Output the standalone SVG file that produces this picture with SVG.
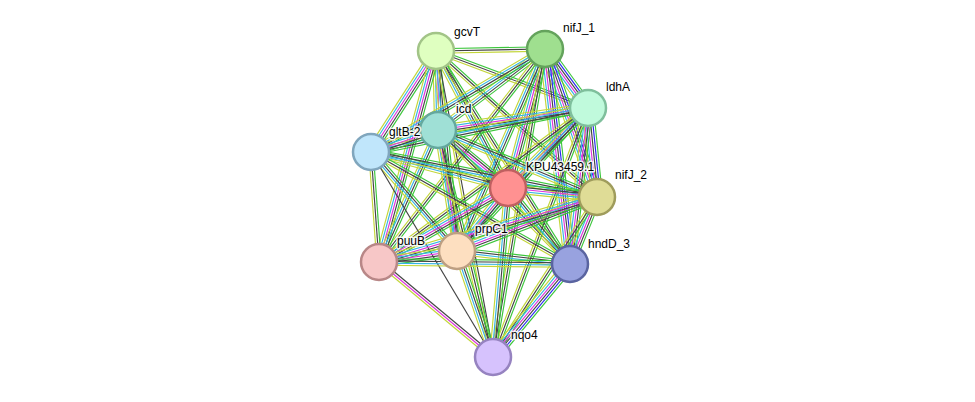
<svg xmlns="http://www.w3.org/2000/svg" xmlns:xlink="http://www.w3.org/1999/xlink" width="975" height="402" viewBox="0 0 975 402">
<style>
.e line{stroke-width:1.15;fill:none}
.g{stroke:#3cc63c}.b{stroke:#2a2af0}.k{stroke:#444}.m{stroke:#dc35dc}.c{stroke:#35b4e2}.y{stroke:#c3d63a}
.node circle{stroke-width:2.5}
.lbl{font-family:"Liberation Sans",Arial,sans-serif;font-size:12px;fill:#000;stroke:#fff;stroke-width:3;stroke-opacity:0.85;paint-order:stroke;stroke-linejoin:round}
</style>
<defs>
<g id="s6" class="e">
<line class="g" x1="0" y1="-5.5" x2="1" y2="-5.5" vector-effect="non-scaling-stroke"/>
<line class="b" x1="0" y1="-3.3" x2="1" y2="-3.3" vector-effect="non-scaling-stroke"/>
<line class="k" x1="0" y1="-1.1" x2="1" y2="-1.1" vector-effect="non-scaling-stroke"/>
<line class="m" x1="0" y1="1.1" x2="1" y2="1.1" vector-effect="non-scaling-stroke"/>
<line class="c" x1="0" y1="3.3" x2="1" y2="3.3" vector-effect="non-scaling-stroke"/>
<line class="y" x1="0" y1="5.5" x2="1" y2="5.5" vector-effect="non-scaling-stroke"/>
</g>
<g id="s5" class="e">
<line class="g" x1="0" y1="-4.4" x2="1" y2="-4.4" vector-effect="non-scaling-stroke"/>
<line class="k" x1="0" y1="-2.2" x2="1" y2="-2.2" vector-effect="non-scaling-stroke"/>
<line class="m" x1="0" y1="0" x2="1" y2="0" vector-effect="non-scaling-stroke"/>
<line class="c" x1="0" y1="2.2" x2="1" y2="2.2" vector-effect="non-scaling-stroke"/>
<line class="y" x1="0" y1="4.4" x2="1" y2="4.4" vector-effect="non-scaling-stroke"/>
</g>
<g id="s4" class="e">
<line class="g" x1="0" y1="-3.3" x2="1" y2="-3.3" vector-effect="non-scaling-stroke"/>
<line class="k" x1="0" y1="-1.1" x2="1" y2="-1.1" vector-effect="non-scaling-stroke"/>
<line class="c" x1="0" y1="1.1" x2="1" y2="1.1" vector-effect="non-scaling-stroke"/>
<line class="y" x1="0" y1="3.3" x2="1" y2="3.3" vector-effect="non-scaling-stroke"/>
</g>
<g id="s4m" class="e">
<line class="k" x1="0" y1="-3.3" x2="1" y2="-3.3" vector-effect="non-scaling-stroke"/>
<line class="m" x1="0" y1="-1.1" x2="1" y2="-1.1" vector-effect="non-scaling-stroke"/>
<line class="c" x1="0" y1="1.1" x2="1" y2="1.1" vector-effect="non-scaling-stroke"/>
<line class="y" x1="0" y1="3.3" x2="1" y2="3.3" vector-effect="non-scaling-stroke"/>
</g>
<g id="s3" class="e">
<line class="g" x1="0" y1="-2.2" x2="1" y2="-2.2" vector-effect="non-scaling-stroke"/>
<line class="k" x1="0" y1="0" x2="1" y2="0" vector-effect="non-scaling-stroke"/>
<line class="y" x1="0" y1="2.2" x2="1" y2="2.2" vector-effect="non-scaling-stroke"/>
</g>
<g id="s3m" class="e">
<line class="k" x1="0" y1="-2.2" x2="1" y2="-2.2" vector-effect="non-scaling-stroke"/>
<line class="m" x1="0" y1="0" x2="1" y2="0" vector-effect="non-scaling-stroke"/>
<line class="y" x1="0" y1="2.2" x2="1" y2="2.2" vector-effect="non-scaling-stroke"/>
</g>
<g id="s2" class="e">
<line class="k" x1="0" y1="-1.1" x2="1" y2="-1.1" vector-effect="non-scaling-stroke"/>
<line class="y" x1="0" y1="1.1" x2="1" y2="1.1" vector-effect="non-scaling-stroke"/>
</g>
<g id="s1k" class="e">
<line class="k" x1="0" y1="0" x2="1" y2="0" vector-effect="non-scaling-stroke"/>
</g>
</defs>
<rect width="975" height="402" fill="#fff"/>
<g id="edges">
<use xlink:href="#s3" transform="matrix(109,-2,0.018,1.000,436,51)"/>
<use xlink:href="#s3" transform="matrix(152,57,-0.351,0.936,436,51)"/>
<use xlink:href="#s4m" transform="matrix(2,79,-1.000,0.025,436,51)"/>
<use xlink:href="#s5" transform="matrix(-65,101,-0.841,-0.541,436,51)"/>
<use xlink:href="#s4" transform="matrix(72,137,-0.885,0.465,436,51)"/>
<use xlink:href="#s3" transform="matrix(161,146,-0.672,0.741,436,51)"/>
<use xlink:href="#s4" transform="matrix(21,200,-0.995,0.104,436,51)"/>
<use xlink:href="#s5" transform="matrix(-57,211,-0.965,-0.261,436,51)"/>
<use xlink:href="#s3" transform="matrix(134,213,-0.846,0.533,436,51)"/>
<use xlink:href="#s2" transform="matrix(57,306,-0.983,0.183,436,51)"/>
<use xlink:href="#s6" transform="matrix(43,59,-0.808,0.589,545,49)"/>
<use xlink:href="#s4" transform="matrix(-107,81,-0.604,-0.797,545,49)"/>
<use xlink:href="#s4" transform="matrix(-174,103,-0.509,-0.861,545,49)"/>
<use xlink:href="#s5" transform="matrix(-37,139,-0.966,-0.257,545,49)"/>
<use xlink:href="#s6" transform="matrix(52,148,-0.943,0.331,545,49)"/>
<use xlink:href="#s4" transform="matrix(-88,202,-0.917,-0.399,545,49)"/>
<use xlink:href="#s3" transform="matrix(-166,213,-0.789,-0.615,545,49)"/>
<use xlink:href="#s6" transform="matrix(25,215,-0.993,0.116,545,49)"/>
<use xlink:href="#s3" transform="matrix(-52,308,-0.986,-0.166,545,49)"/>
<use xlink:href="#s5" transform="matrix(-150,22,-0.145,-0.989,588,108)"/>
<use xlink:href="#s4" transform="matrix(-217,44,-0.199,-0.980,588,108)"/>
<use xlink:href="#s5" transform="matrix(-80,80,-0.707,-0.707,588,108)"/>
<use xlink:href="#s6" transform="matrix(9,89,-0.995,0.101,588,108)"/>
<use xlink:href="#s4" transform="matrix(-131,143,-0.737,-0.675,588,108)"/>
<use xlink:href="#s3" transform="matrix(-209,154,-0.593,-0.805,588,108)"/>
<use xlink:href="#s5" transform="matrix(-18,156,-0.993,-0.115,588,108)"/>
<use xlink:href="#s3" transform="matrix(-95,249,-0.934,-0.356,588,108)"/>
<use xlink:href="#s5" transform="matrix(-67,22,-0.312,-0.950,438,130)"/>
<use xlink:href="#s5" transform="matrix(70,58,-0.638,0.770,438,130)"/>
<use xlink:href="#s4" transform="matrix(159,67,-0.388,0.922,438,130)"/>
<use xlink:href="#s4m" transform="matrix(19,121,-0.988,0.155,438,130)"/>
<use xlink:href="#s4" transform="matrix(-59,132,-0.913,-0.408,438,130)"/>
<use xlink:href="#s3" transform="matrix(132,134,-0.712,0.702,438,130)"/>
<use xlink:href="#s3" transform="matrix(55,227,-0.972,0.235,438,130)"/>
<use xlink:href="#s4" transform="matrix(137,36,-0.254,0.967,371,152)"/>
<use xlink:href="#s4" transform="matrix(226,45,-0.195,0.981,371,152)"/>
<use xlink:href="#s4" transform="matrix(86,99,-0.755,0.656,371,152)"/>
<use xlink:href="#s3" transform="matrix(8,110,-0.997,0.073,371,152)"/>
<use xlink:href="#s3" transform="matrix(199,112,-0.490,0.871,371,152)"/>
<use xlink:href="#s1k" transform="matrix(122,205,-0.859,0.511,371,152)"/>
<use xlink:href="#s5" transform="matrix(89,9,-0.101,0.995,508,188)"/>
<use xlink:href="#s5" transform="matrix(-51,63,-0.777,-0.629,508,188)"/>
<use xlink:href="#s5" transform="matrix(-129,74,-0.498,-0.867,508,188)"/>
<use xlink:href="#s4" transform="matrix(62,76,-0.775,0.632,508,188)"/>
<use xlink:href="#s4" transform="matrix(-15,169,-0.996,-0.088,508,188)"/>
<use xlink:href="#s5" transform="matrix(-140,54,-0.360,-0.933,597,197)"/>
<use xlink:href="#s5" transform="matrix(-218,65,-0.286,-0.958,597,197)"/>
<use xlink:href="#s5" transform="matrix(-27,67,-0.927,-0.374,597,197)"/>
<use xlink:href="#s3" transform="matrix(-104,160,-0.838,-0.545,597,197)"/>
<use xlink:href="#s5" transform="matrix(-78,11,-0.140,-0.990,457,251)"/>
<use xlink:href="#s4" transform="matrix(113,13,-0.114,0.993,457,251)"/>
<use xlink:href="#s4" transform="matrix(36,106,-0.947,0.322,457,251)"/>
<use xlink:href="#s4" transform="matrix(191,2,-0.010,1.000,379,262)"/>
<use xlink:href="#s3m" transform="matrix(114,95,-0.640,0.768,379,262)"/>
<use xlink:href="#s6" transform="matrix(-77,93,-0.770,-0.638,570,264)"/>
</g>
<g id="gcvT" class="node"><circle cx="436" cy="51" r="18" fill="#dfffc0" stroke="#a2c487"/><text class="lbl" x="454" y="36">gcvT</text></g>
<g id="nifJ_1" class="node"><circle cx="545" cy="49" r="18" fill="#9fdf8f" stroke="#64a35c"/><text class="lbl" x="563" y="32">nifJ_1</text></g>
<g id="ldhA" class="node"><circle cx="588" cy="108" r="18" fill="#c0fadc" stroke="#7fbf9c"/><text class="lbl" x="606" y="91">ldhA</text></g>
<g id="icd" class="node"><circle cx="438" cy="130" r="18" fill="#9fe0d6" stroke="#64a89e"/><text class="lbl" x="456" y="113">icd</text></g>
<g id="gltB-2" class="node"><circle cx="371" cy="152" r="18" fill="#c0e6fb" stroke="#80a6bd"/><text class="lbl" x="389" y="136">gltB-2</text></g>
<g id="KPU43459.1" class="node"><circle cx="508" cy="188" r="18" fill="#ff9191" stroke="#c06060"/><text class="lbl" x="526" y="171">KPU43459.1</text></g>
<g id="nifJ_2" class="node"><circle cx="597" cy="197" r="18" fill="#dfdc96" stroke="#9f9c5c"/><text class="lbl" x="615" y="179">nifJ_2</text></g>
<g id="prpC1" class="node"><circle cx="457" cy="251" r="18" fill="#fddfc0" stroke="#bd9f82"/><text class="lbl" x="475" y="233">prpC1</text></g>
<g id="puuB" class="node"><circle cx="379" cy="262" r="18" fill="#f7c7c7" stroke="#b88787"/><text class="lbl" x="397" y="245">puuB</text></g>
<g id="hndD_3" class="node"><circle cx="570" cy="264" r="18" fill="#98a2df" stroke="#5a64a0"/><text class="lbl" x="588" y="248">hndD_3</text></g>
<g id="nqo4" class="node"><circle cx="493" cy="357" r="18" fill="#d6c2fd" stroke="#9683c0"/><text class="lbl" x="511" y="339">nqo4</text></g>
</svg>
